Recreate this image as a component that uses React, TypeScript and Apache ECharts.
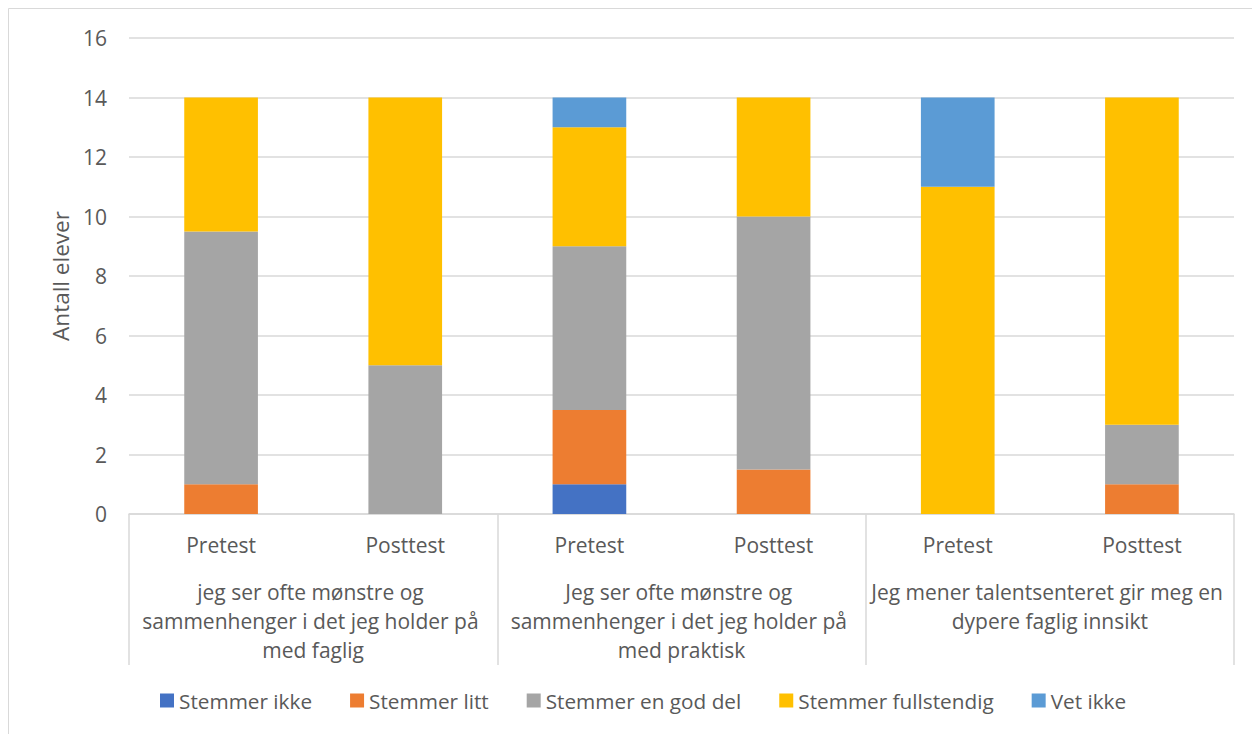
import React, { useEffect, useRef } from "react";
import * as echarts from "echarts";

const barLabels = ["Pretest", "Posttest", "Pretest", "Posttest", "Pretest", "Posttest"];
const groupLabels = [
  "jeg ser ofte mønstre og sammenhenger i det jeg holder på med faglig",
  "Jeg ser ofte mønstre og sammenhenger i det jeg holder på med praktisk",
  "Jeg mener talentsenteret gir meg en dypere faglig innsikt",
];
const seriesNames = ["Stemmer ikke", "Stemmer litt", "Stemmer en god del", "Stemmer fullstendig", "Vet ikke"];
const stemmerIkke = [0, 0, 1, 0, 0, 0];
const stemmerLitt = [1, 0, 2.5, 1.5, 0, 1];
const stemmerGodDel = [8.5, 5, 5.5, 8.5, 0, 2];
const stemmerFullstendig = [4.5, 9, 4, 4, 11, 11];
const vetIkke = [0, 0, 1, 0, 3, 0];
const yTicks = { min: 0, max: 16, interval: 2 };
const colors = ["#4472C4", "#ED7D31", "#A5A5A5", "#FFC000", "#5B9BD5"];

const FONT = "'Open Sans', sans-serif";
const TXT = "#595959";
const FS = 21;

export default function App() {
  const ref = useRef<HTMLDivElement>(null);
  useEffect(() => {
    if (!ref.current) return;
    const chart = echarts.init(ref.current, undefined, { renderer: "svg" });
    const values = [stemmerIkke, stemmerLitt, stemmerGodDel, stemmerFullstendig, vetIkke];
    chart.setOption({
      animation: false,
      color: colors,
      textStyle: { fontFamily: FONT, color: TXT },
      graphic: [
        {
          type: "rect",
          shape: { x: 8.5, y: 8.5, width: 1300, height: 800 },
          style: { fill: "none", stroke: "#d9d9d9", lineWidth: 1 },
          silent: true,
        },
      ],
      grid: { left: 129, right: 18, top: 38, bottom: 220, containLabel: false },
      legend: {
        data: seriesNames,
        left: 155,
        top: 685,
        icon: "rect",
        itemWidth: 14,
        itemHeight: 14,
        itemGap: 38,
        textStyle: { fontFamily: FONT, color: TXT, fontSize: 20.75 },
      },
      xAxis: [
        {
          type: "category",
          data: barLabels,
          position: "bottom",
          axisLine: { show: true, lineStyle: { color: "#d9d9d9", width: 1.5 } },
          axisTick: { show: false },
          axisLabel: {
            interval: 0,
            margin: 16,
            color: TXT,
            fontFamily: FONT,
            fontSize: FS,
            lineHeight: 29,
          },
        },
        {
          type: "category",
          data: groupLabels,
          position: "bottom",
          offset: 0,
          axisLine: { show: false },
          axisTick: { show: true, length: 151, lineStyle: { color: "#d9d9d9", width: 1.5 } },
          axisLabel: {
            interval: 0,
            margin: 63,
            color: TXT,
            fontFamily: FONT,
            fontSize: FS,
            lineHeight: 29,
            width: 362,
            overflow: "break",
            align: "center",
          },
        },
      ],
      yAxis: {
        type: "value",
        min: yTicks.min,
        max: yTicks.max,
        interval: yTicks.interval,
        name: "Antall elever",
        nameLocation: "middle",
        nameGap: 57,
        nameTextStyle: { color: TXT, fontFamily: FONT, fontSize: 22.5 },
        axisLine: { show: false },
        axisTick: { show: false },
        splitLine: { lineStyle: { color: "#d9d9d9", width: 1.5 } },
        axisLabel: { color: TXT, fontFamily: FONT, fontSize: FS, margin: 22 },
      },
      series: seriesNames.map((name, i) => ({
        name,
        type: "bar",
        stack: "total",
        xAxisIndex: 0,
        barWidth: "40%",
        data: values[i],
      })),
    });
    return () => chart.dispose();
  }, []);
  return (
    <div
      ref={ref}
      style={{ position: "absolute", left: 0, top: 0, width: 1252, height: 734, background: "#fff" }}
    />
  );
}
